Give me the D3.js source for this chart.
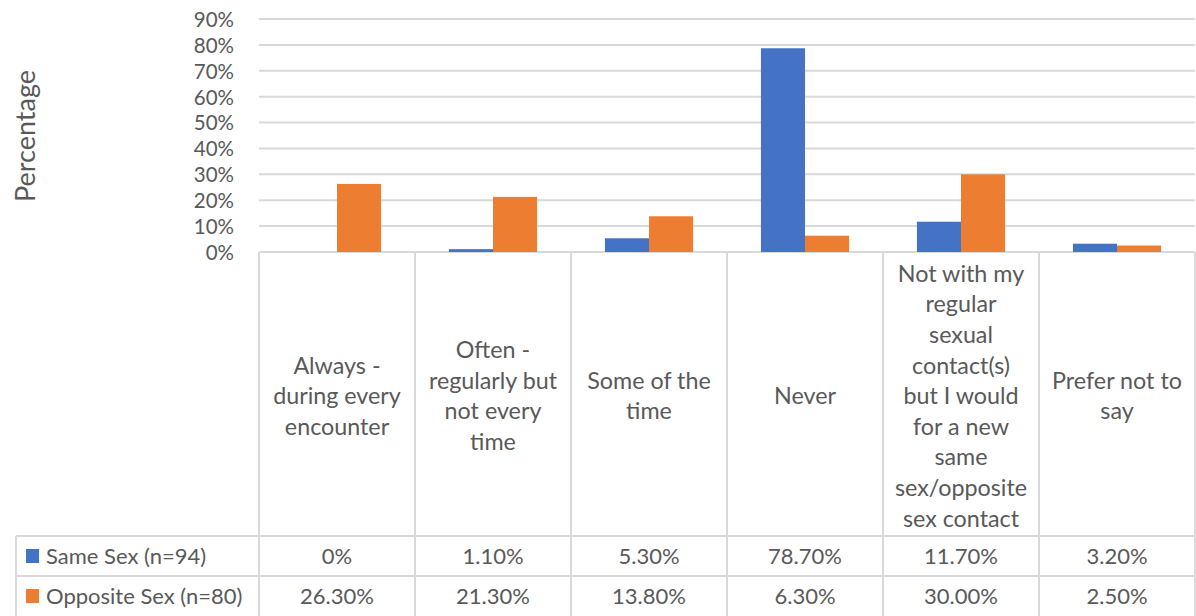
<!DOCTYPE html>
<html>
<head>
<meta charset="utf-8">
<script src="https://cdn.jsdelivr.net/npm/d3@7"></script>
<style>
  html, body { margin: 0; padding: 0; background: #fff; }
  svg { display: block; font-family: Lato, "Open Sans", sans-serif; }
</style>
</head>
<body>
<svg id="chart" width="1196" height="616"></svg>
<script>
// Categories (with the line breaks used in the data table header)
const categories = [
  "Always - during every encounter",
  "Often - regularly but not every time",
  "Some of the time",
  "Never",
  "Not with my regular sexual contact(s) but I would for a new same sex/opposite sex contact",
  "Prefer not to say"
];
const categoryLines = [
  ["Always -", "during every", "encounter"],
  ["Often -", "regularly but", "not every", "time"],
  ["Some of the", "time"],
  ["Never"],
  ["Not with my", "regular", "sexual", "contact(s)", "but I would", "for a new", "same", "sex/opposite", "sex contact"],
  ["Prefer not to", "say"]
];
const seriesNames = ["Same Sex (n=94)", "Opposite Sex (n=80)"];
const sameSex = [0, 1.1, 5.3, 78.7, 11.7, 3.2];
const oppositeSex = [26.3, 21.3, 13.8, 6.3, 30.0, 2.5];
const sameSexLabels = ["0%", "1.10%", "5.30%", "78.70%", "11.70%", "3.20%"];
const oppositeSexLabels = ["26.30%", "21.30%", "13.80%", "6.30%", "30.00%", "2.50%"];
const yTicks = [0, 10, 20, 30, 40, 50, 60, 70, 80, 90];

const colors = ["#4472C4", "#ED7D31"];
const seriesValues = [sameSex, oppositeSex];
const seriesLabels = [sameSexLabels, oppositeSexLabels];

const svg = d3.select("#chart");
const gridColor = "#d9d9d9";
const textColor = "#595959";

const plotLeft = 259, plotRight = 1195;
const plotTop = 19, plotBottom = 252;
const tableLeft = 16;
const headerBottom = 536;
const rowH = 40;

const x = d3.scaleBand().domain(categories).range([plotLeft, plotRight]).paddingInner(0).paddingOuter(0);
const xs = d3.scaleBand().domain([0, 1]).range([0, x.bandwidth()]).paddingInner(0).paddingOuter(0.77);
const y = d3.scaleLinear().domain([0, 90]).range([plotBottom, plotTop]);

// Horizontal gridlines
svg.append("g")
  .selectAll("line")
  .data(yTicks)
  .join("line")
  .attr("x1", plotLeft).attr("x2", plotRight)
  .attr("y1", d => y(d)).attr("y2", d => y(d))
  .attr("stroke", gridColor).attr("stroke-width", 2);

// Y axis labels
const yAxis = d3.axisLeft(y).tickValues(yTicks).tickFormat(d => d + "%").tickSize(0).tickPadding(0);
const yg = svg.append("g").attr("transform", `translate(${plotLeft - 25},0)`).call(yAxis);
yg.select(".domain").remove();
yg.selectAll("text")
  .attr("fill", textColor)
  .attr("font-size", 20.5)
  .attr("font-family", "Lato, 'Open Sans', sans-serif")
  .attr("dy", "0.36em");

// Axis title
svg.append("text")
  .attr("transform", `translate(35,136) rotate(-90)`)
  .attr("text-anchor", "middle")
  .attr("fill", textColor)
  .attr("font-size", 27)
  .text("Percentage");

// Bars
seriesValues.forEach((vals, s) => {
  svg.append("g")
    .selectAll("rect")
    .data(vals)
    .join("rect")
    .attr("x", (d, i) => x(categories[i]) + xs(s))
    .attr("width", xs.bandwidth())
    .attr("y", d => y(d))
    .attr("height", d => y(0) - y(d))
    .attr("fill", colors[s]);
});

// Data table: grid lines
const tbl = svg.append("g").attr("stroke", gridColor).attr("stroke-width", 2);
const bounds = categories.map(c => x(c)).concat([plotRight]);
tbl.selectAll("line.v")
  .data(bounds)
  .join("line")
  .attr("x1", d => d).attr("x2", d => d)
  .attr("y1", plotBottom).attr("y2", 616);
tbl.append("line").attr("x1", tableLeft).attr("x2", tableLeft).attr("y1", headerBottom).attr("y2", 616);
[headerBottom, headerBottom + rowH].forEach(yy => {
  tbl.append("line").attr("x1", tableLeft).attr("x2", plotRight).attr("y1", yy).attr("y2", yy);
});

// Category header text
const lineH = 30.6;
const headerMid = (plotBottom + headerBottom) / 2 + 2;
categories.forEach((c, i) => {
  const lines = categoryLines[i];
  const t = svg.append("text")
    .attr("text-anchor", "middle")
    .attr("fill", textColor)
    .attr("font-size", 23.3);
  lines.forEach((ln, k) => {
    t.append("tspan")
      .attr("x", x(c) + x.bandwidth() / 2)
      .attr("y", headerMid + (k - (lines.length - 1) / 2) * lineH)
      .attr("dy", "0.35em")
      .text(ln);
  });
});

// Table rows: legend key + values
seriesNames.forEach((name, s) => {
  const cy = headerBottom + rowH * s + rowH / 2;
  svg.append("rect")
    .attr("x", 26).attr("y", cy - 7).attr("width", 13).attr("height", 14)
    .attr("fill", colors[s]);
  svg.append("text")
    .attr("x", 46).attr("y", cy).attr("dy", "0.36em")
    .attr("fill", textColor).attr("font-size", 22)
    .text(name);
  svg.append("g")
    .selectAll("text")
    .data(seriesLabels[s])
    .join("text")
    .attr("x", (d, i) => x(categories[i]) + x.bandwidth() / 2)
    .attr("y", cy).attr("dy", "0.36em")
    .attr("text-anchor", "middle")
    .attr("fill", textColor).attr("font-size", 22)
    .text(d => d);
});
</script>
</body>
</html>
